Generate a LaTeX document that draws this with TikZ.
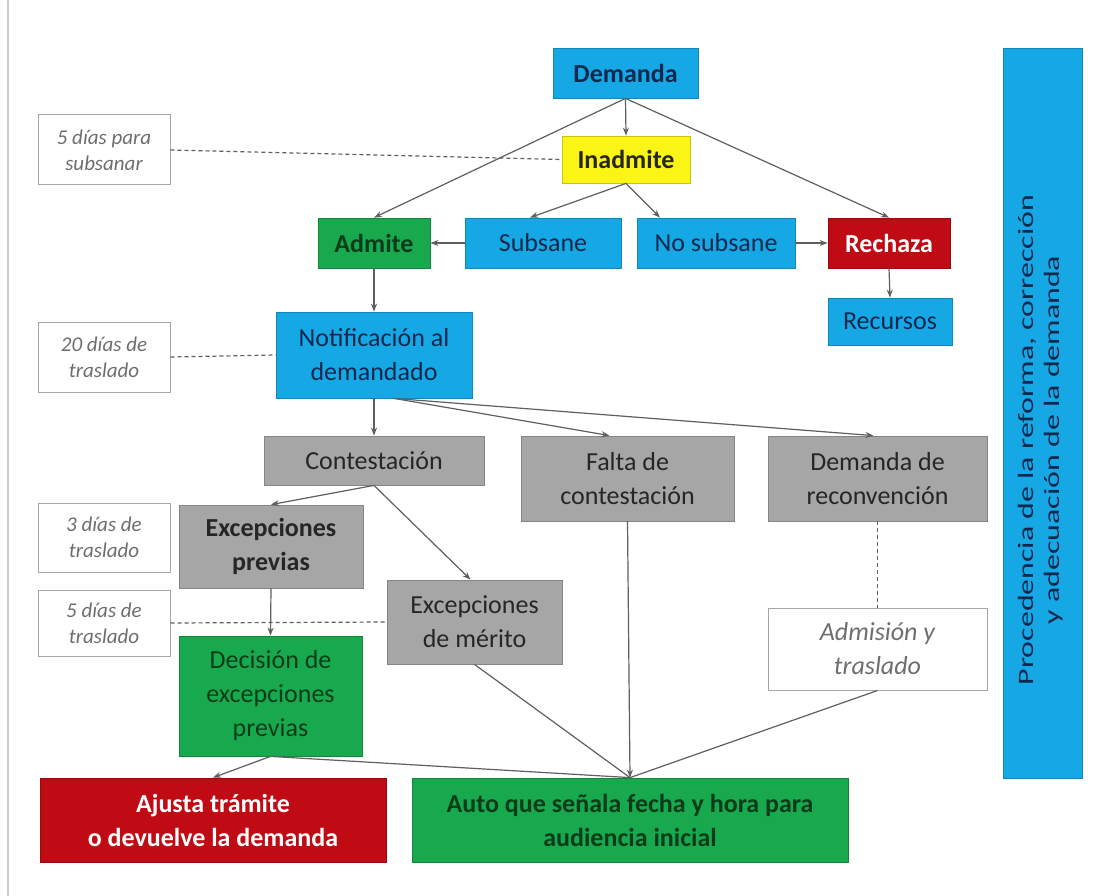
\documentclass[tikz,border=0pt]{standalone}
\usepackage{fontspec}
\usepackage{graphicx}
\setmainfont{Carlito}
\usetikzlibrary{arrows.meta}

\definecolor{fillblue}{RGB}{22,168,228}
\definecolor{fillyellow}{RGB}{250,245,20}
\definecolor{fillgreen}{RGB}{24,168,78}
\definecolor{fillred}{RGB}{192,10,20}
\definecolor{fillgray}{RGB}{166,166,166}
\definecolor{linegray}{RGB}{95,95,95}
\definecolor{navytext}{RGB}{16,40,78}
\definecolor{greentext}{RGB}{10,60,25}
\definecolor{notegray}{RGB}{110,110,110}

\newcommand{\boxfont}{\fontsize{26}{34}\selectfont}
\newcommand{\notefont}{\fontsize{21}{26}\selectfont\itshape}

\tikzset{
  box/.style={rectangle, inner sep=2pt, align=center, font=\boxfont,
              draw=#1!80!black, line width=0.8pt, fill=#1},
  strong/.style={font=\boxfont\bfseries},
  notebox/.style={rectangle, inner sep=2pt, align=center, draw=gray!70, line width=1pt, fill=white,
              text=notegray, font=\notefont},
  flow/.style={draw=linegray, line width=1.2pt, -{Stealth[length=8pt,width=6pt]}},
  plain/.style={draw=linegray, line width=1.2pt},
  hint/.style={draw=linegray, line width=1.2pt, dash pattern=on 4pt off 3pt},
}

\begin{document}
\begin{tikzpicture}[x=1pt, y=-1pt]
  \useasboundingbox (0,0) rectangle (1094,896);
  \fill[white] (0,0) rectangle (1094,896);
  \draw[gray!40, line width=1.5pt] (8,0) -- (8,896);

  % side banner
  \node[box=fillblue, minimum width=79pt, minimum height=730pt] (side) at (1042.5,413) {};
  \node[rotate=90, align=center, text=navytext, font=\fontsize{22}{26}\selectfont] (sidetext) at (1041,440)
    {\scalebox{1.45}[1]{\begin{tabular}{@{}c@{}}Procedencia de la reforma, corrección\\[0pt]y adecuación de la demanda\end{tabular}}};

  % admission stage
  \node[box=fillblue, text=navytext, strong, minimum width=145pt, minimum height=50pt] (dem) at (625.5,73) {Demanda};
  \node[box=fillyellow, text=black!85, strong, minimum width=128pt, minimum height=47pt] (inad) at (626,159.5) {Inadmite};
  \node[box=fillgreen, text=greentext, strong, minimum width=112pt, minimum height=50pt] (adm) at (374,243) {Admite};
  \node[box=fillblue, text=navytext, minimum width=156pt, minimum height=50pt] (sub) at (543,243) {Subsane};
  \node[box=fillblue, text=navytext, minimum width=158pt, minimum height=50pt] (nosub) at (716,243) {No subsane};
  \node[box=fillred, text=white, strong, minimum width=122pt, minimum height=50pt] (rech) at (889,243) {Rechaza};
  \node[box=fillblue, text=navytext, minimum width=124pt, minimum height=47pt] (recur) at (890,321.5) {Recursos};

  % notification and answers
  \node[box=fillblue, text=navytext, minimum width=196pt, minimum height=86pt] (notif) at (374,355)
    {Notificación al\\demandado};
  \node[box=fillgray, text=black!85, minimum width=220pt, minimum height=49pt] (cont) at (374,460.5) {Contestación};
  \node[box=fillgray, text=black!85, minimum width=213pt, minimum height=85pt] (falta) at (627.5,478.5)
    {Falta de\\contestación};
  \node[box=fillgray, text=black!85, minimum width=219pt, minimum height=85pt] (recon) at (877.5,478.5)
    {Demanda de\\reconvención};
  \node[box=fillgray, text=black!85, strong, minimum width=184pt, minimum height=83pt] (exprev) at (271,546.5)
    {Excepciones\\previas};
  \node[box=fillgray, text=black!85, minimum width=175pt, minimum height=84pt] (exmer) at (474.5,622)
    {Excepciones\\de mérito};
  \node[box=fillgreen, text=greentext, minimum width=183pt, minimum height=120pt] (decis) at (270.5,696)
    {Decisión de\\excepciones\\previas};
  \node[notebox, font=\boxfont\itshape, minimum width=219pt, minimum height=82pt] (admtr) at (877.5,649)
    {Admisión y\\traslado};

  % outcomes
  \node[box=fillred, text=white, strong, minimum width=346pt, minimum height=84pt] (ajusta) at (213,820)
    {Ajusta trámite\\o devuelve la demanda};
  \node[box=fillgreen, text=greentext, strong, minimum width=436pt, minimum height=84pt] (auto) at (630,820)
    {Auto que señala fecha y hora para\\audiencia inicial};

  % time limits
  \node[notebox, minimum width=132pt, minimum height=70pt] (t1) at (104,150) {5 días para\\subsanar};
  \node[notebox, minimum width=132pt, minimum height=70pt] (t2) at (104,357) {20 días de\\traslado};
  \node[notebox, minimum width=132pt, minimum height=69pt] (t3) at (104,537.5) {3 días de\\traslado};
  \node[notebox, minimum width=132pt, minimum height=66pt] (t4) at (104,623) {5 días de\\traslado};

  % connectors
  \draw[flow] (dem.south) -- (inad.north);
  \draw[flow] (dem.south) -- (adm.north);
  \draw[flow] (dem.south) -- (rech.north);
  \draw[flow] (inad.south) -- ([xshift=-13pt]sub.north);
  \draw[flow] (inad.south) -- ([xshift=-56pt]nosub.north);
  \draw[flow] (sub.west) -- (adm.east);
  \draw[flow] (nosub.east) -- (rech.west);
  \draw[flow] (rech.south) -- (recur.north);
  \draw[flow] (adm.south) -- (notif.north);
  \draw[flow] (notif.south) -- (cont.north);
  \draw[flow] ([xshift=20pt]notif.south) -- ([xshift=-18pt]falta.north);
  \draw[flow] ([xshift=20pt]notif.south) -- ([xshift=-4pt]recon.north);
  \draw[flow] (cont.south) -- (exprev.north);
  \draw[flow] (cont.south) -- ([xshift=-4pt]exmer.north);
  \draw[flow] (exprev.south) -- (decis.north);
  \draw[flow] (decis.south) -- (ajusta.north);
  \draw[plain] (decis.south) -- (auto.north);
  \draw[plain] (exmer.south) -- (auto.north);
  \draw[plain] (admtr.south) -- (auto.north);
  \draw[flow] (falta.south) -- (auto.north);

  % dashed references
  \draw[hint] (t1.east) -- (inad.west);
  \draw[hint] (t2.east) -- (notif.west);
  \draw[hint] (t4.east) -- (exmer.west);
  \draw[hint] (recon.south) -- (admtr.north);
\end{tikzpicture}
\end{document}
